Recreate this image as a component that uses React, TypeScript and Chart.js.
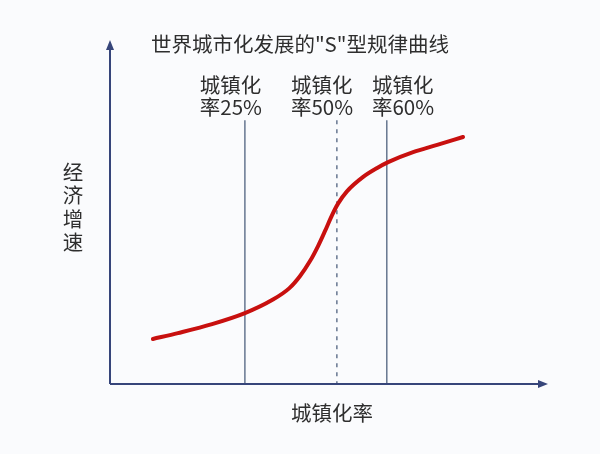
import React, { useEffect, useRef } from 'react';
import Chart from 'chart.js/auto';

// curve (x: position along the urbanisation axis, y: growth)
const curveX = [9.8, 15.5, 23.3, 30.8, 37.0, 40.9, 43.4, 45.7, 47.5, 49.1, 50.7, 52.1, 54.1, 57.8, 61.0, 63.5, 69.2, 74.7, 80.6];
const curveY = [13.1, 14.8, 17.4, 20.6, 24.4, 27.8, 31.4, 35.8, 40.1, 44.5, 49.1, 52.5, 56.0, 60.2, 62.8, 64.5, 67.4, 69.5, 71.8];

// vertical markers
const markerX = [30.8, 51.8, 63.2];
const markerTop = 76.7;
const markerDashed = [false, true, false];
const markerLine1 = ['城镇化', '城镇化', '城镇化'];
const markerLine2 = ['率25%', '率50%', '率60%'];
const markerLabelX = [20.5, 41.3, 59.8];

const title = '世界城市化发展的"S"型规律曲线';
const xTitle = '城镇化率';
const yTitle = ['经', '济', '增', '速'];

const FONT = '"Noto Sans CJK SC", "Noto Sans", sans-serif';
const AXIS = '#36457a';
const MARK = '#4f627f';
const TEXT = '#2e2e2e';

export default function App() {
  const chartRef = useRef<HTMLCanvasElement>(null);
  const chartInstance = useRef<Chart | null>(null);

  useEffect(() => {
    if (!chartRef.current) return;
    const ctx = chartRef.current.getContext('2d');
    if (!ctx) return;

    if (chartInstance.current) {
      chartInstance.current.destroy();
    }

    const markerSets = markerX.map((x, i) => ({
      type: 'line' as const,
      data: [
        { x, y: markerTop },
        { x, y: 0 },
      ],
      borderColor: MARK,
      borderWidth: 1.3,
      borderDash: markerDashed[i] ? [4, 5] : [],
      pointRadius: 0,
      fill: false,
    }));

    const decor = {
      id: 'decor',
      afterDraw(chart: any) {
        const c = chart.ctx;
        const { left, right, top, bottom } = chart.chartArea;
        const xs = chart.scales.x;
        c.save();
        // axes
        c.strokeStyle = AXIS;
        c.fillStyle = AXIS;
        c.lineWidth = 2;
        c.beginPath();
        c.moveTo(left, bottom);
        c.lineTo(left, top + 6);
        c.moveTo(left, bottom);
        c.lineTo(right - 6, bottom);
        c.stroke();
        // arrow heads
        c.beginPath();
        c.moveTo(left, top);
        c.lineTo(left - 4, top + 10);
        c.lineTo(left + 4, top + 10);
        c.closePath();
        c.fill();
        c.beginPath();
        c.moveTo(right, bottom);
        c.lineTo(right - 10, bottom - 4);
        c.lineTo(right - 10, bottom + 4);
        c.closePath();
        c.fill();

        // texts
        c.fillStyle = TEXT;
        c.textBaseline = 'middle';
        c.font = `20.5px ${FONT}`;
        c.textAlign = 'center';
        c.fillText(title, 300, 44);
        c.fillText(xTitle, 332, 413);
        yTitle.forEach((ch, i) => c.fillText(ch, 73, 172 + i * 23.5));
        c.textAlign = 'left';
        markerLabelX.forEach((lx, i) => {
          const px = xs.getPixelForValue(lx);
          c.fillText(markerLine1[i], px, 85);
          c.fillText(markerLine2[i], px, 107);
        });
        c.restore();
      },
    };

    chartInstance.current = new Chart(ctx, {
      type: 'scatter',
      data: {
        datasets: [
          {
            type: 'line',
            data: curveX.map((x, i) => ({ x, y: curveY[i] })),
            borderColor: '#c8100f',
            borderWidth: 4,
            cubicInterpolationMode: 'monotone',
            pointRadius: 0,
            fill: false,
            borderCapStyle: 'round',
          },
          ...markerSets,
        ] as any,
      },
      options: {
        animation: false,
        responsive: true,
        maintainAspectRatio: false,
        layout: { padding: { left: 110, right: 52, top: 40, bottom: 70 } },
        plugins: {
          legend: { display: false },
          tooltip: { enabled: false },
        },
        scales: {
          x: { type: 'linear', min: 0, max: 100, display: false },
          y: { type: 'linear', min: 0, max: 100, display: false },
        },
      },
      plugins: [decor],
    });

    return () => {
      if (chartInstance.current) {
        chartInstance.current.destroy();
        chartInstance.current = null;
      }
    };
  }, []);

  return (
    <div style={{ position: 'fixed', left: 0, top: 0, width: 600, height: 454, background: '#fafbfd' }}>
      <canvas ref={chartRef}></canvas>
    </div>
  );
}
